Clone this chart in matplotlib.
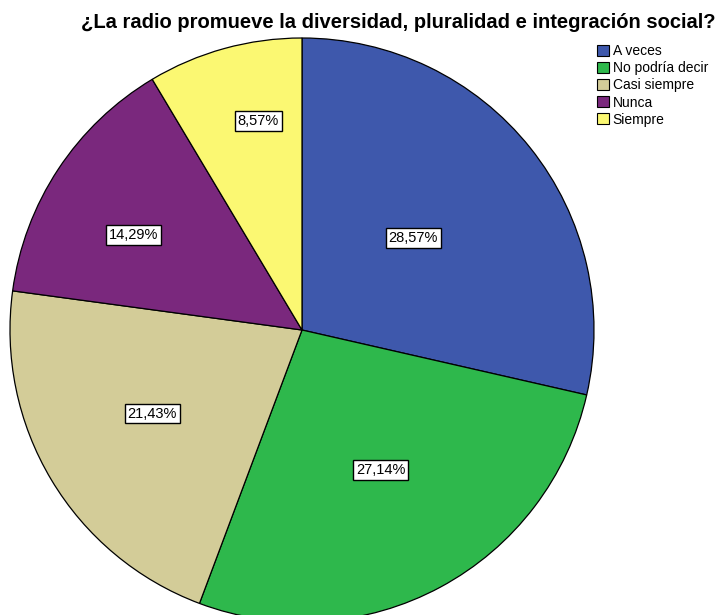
import numpy as np
import matplotlib.pyplot as plt
from matplotlib.patches import Patch

categories = ["A veces", "No podría decir", "Casi siempre", "Nunca", "Siempre"]
percentages = [28.57, 27.14, 21.43, 14.29, 8.57]
labels = ["28,57%", "27,14%", "21,43%", "14,29%", "8,57%"]
colors = ["#3e58ac", "#2eb84c", "#d3cc98", "#7a287d", "#fbf872"]

# label placement: distance from centre (fraction of radius) and angular nudge (deg)
label_dist = [0.494, 0.55, 0.587, 0.662, 0.73]
label_nudge = [1.0, 1.1, -1.7, 3.9, -3.6]

W, H = 716, 615
fig = plt.figure(figsize=(W / 100, H / 100), dpi=100)
ax = fig.add_axes([0, 0, 1, 1])

cx, cy, r = 302, H - 330, 292
wedges, texts = ax.pie(
    percentages,
    colors=colors,
    startangle=90,
    counterclock=False,
    center=(cx, cy),
    radius=r,
    wedgeprops={"edgecolor": "black", "linewidth": 0.9},
    frame=True,
)
ax.set_xlim(0, W)
ax.set_ylim(0, H)
ax.set_aspect("equal")
ax.axis("off")

for w, lab, d, nudge in zip(wedges, labels, label_dist, label_nudge):
    ang = np.deg2rad((w.theta1 + w.theta2) / 2 + nudge)
    x = cx + d * r * np.cos(ang)
    y = cy + d * r * np.sin(ang)
    ax.text(x, y, lab, ha="center", va="center", fontsize=10.5, family="Liberation Sans",
            bbox=dict(boxstyle="square,pad=0.2", facecolor="white", edgecolor="black", linewidth=1))

fig.text(398 / W, 1 - 22 / H, "¿La radio promueve la diversidad, pluralidad e integración social?",
         ha="center", va="center", fontsize=14.5, fontweight="bold", family="Liberation Sans")

handles = [Patch(facecolor=c, edgecolor="black", linewidth=0.8) for c in colors]
fig.legend(handles, categories, loc="upper left", bbox_to_anchor=(596 / W, 1 - 43 / H),
           frameon=False, prop={"family": "Liberation Sans", "size": 10},
           handlelength=0.85, handleheight=0.85, handletextpad=0.25, labelspacing=0.22,
           borderpad=0.1, borderaxespad=0)

fig.savefig("out.png", dpi=100)
